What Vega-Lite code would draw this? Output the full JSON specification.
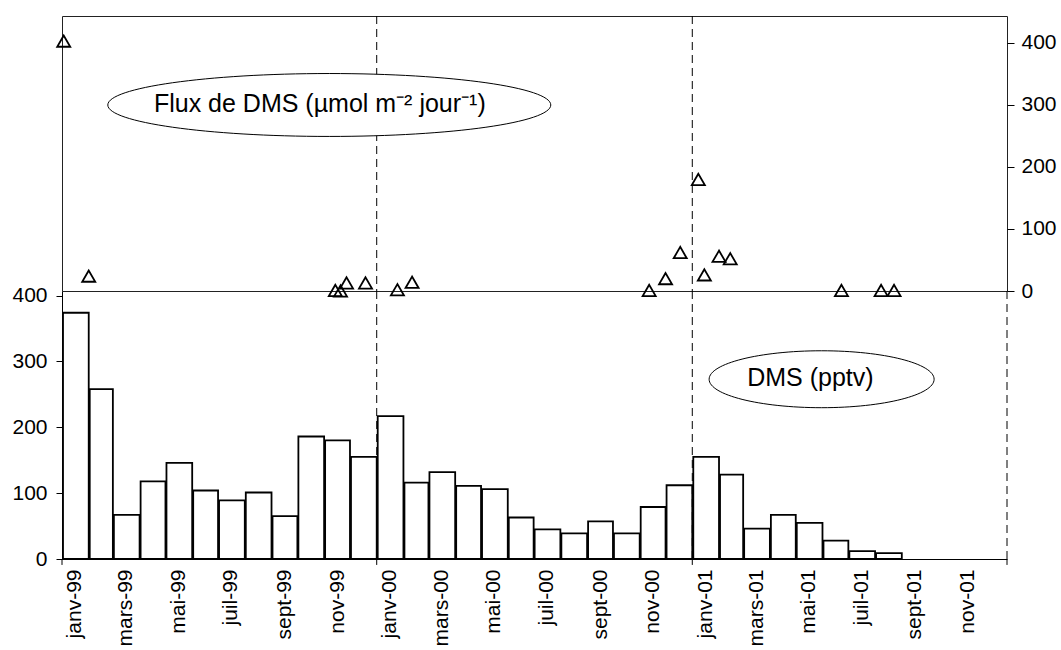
{
  "$schema": "https://vega.github.io/schema/vega-lite/v6.json",
  "background": "white",
  "padding": {"left": 11, "top": 15, "right": 5, "bottom": 0},
  "spacing": 0,
  "bounds": "flush",
  "config": {
    "font": "Liberation Sans",
    "axis": {"labelFont": "Liberation Sans", "labelColor": "black", "labelFontSize": 21, "domainColor": "black", "tickColor": "black", "grid": false, "title": null},
    "view": {"stroke": null}
  },
  "datasets": {
    "dms": [
      {"month": "1999-01-15", "dms": 374},
      {"month": "1999-02-15", "dms": 258},
      {"month": "1999-03-15", "dms": 67},
      {"month": "1999-04-15", "dms": 118},
      {"month": "1999-05-15", "dms": 146},
      {"month": "1999-06-15", "dms": 104},
      {"month": "1999-07-15", "dms": 89},
      {"month": "1999-08-15", "dms": 101},
      {"month": "1999-09-15", "dms": 65},
      {"month": "1999-10-15", "dms": 186},
      {"month": "1999-11-15", "dms": 180},
      {"month": "1999-12-15", "dms": 155},
      {"month": "2000-01-15", "dms": 217},
      {"month": "2000-02-15", "dms": 116},
      {"month": "2000-03-15", "dms": 132},
      {"month": "2000-04-15", "dms": 111},
      {"month": "2000-05-15", "dms": 106},
      {"month": "2000-06-15", "dms": 63},
      {"month": "2000-07-15", "dms": 45},
      {"month": "2000-08-15", "dms": 39},
      {"month": "2000-09-15", "dms": 57},
      {"month": "2000-10-15", "dms": 39},
      {"month": "2000-11-15", "dms": 79},
      {"month": "2000-12-15", "dms": 112},
      {"month": "2001-01-15", "dms": 155},
      {"month": "2001-02-15", "dms": 128},
      {"month": "2001-03-15", "dms": 46},
      {"month": "2001-04-15", "dms": 67},
      {"month": "2001-05-15", "dms": 55},
      {"month": "2001-06-15", "dms": 28},
      {"month": "2001-07-15", "dms": 12},
      {"month": "2001-08-15", "dms": 9}
    ],
    "flux": [
      {"date": "1999-01-03", "flux": 403},
      {"date": "1999-02-01", "flux": 24},
      {"date": "1999-11-14", "flux": 1},
      {"date": "1999-11-20", "flux": 0},
      {"date": "1999-11-27", "flux": 13},
      {"date": "1999-12-19", "flux": 13},
      {"date": "2000-01-25", "flux": 2},
      {"date": "2000-02-11", "flux": 14},
      {"date": "2000-11-12", "flux": 1},
      {"date": "2000-12-01", "flux": 20},
      {"date": "2000-12-18", "flux": 62},
      {"date": "2001-01-08", "flux": 180},
      {"date": "2001-01-15", "flux": 26},
      {"date": "2001-02-01", "flux": 56},
      {"date": "2001-02-14", "flux": 52},
      {"date": "2001-06-23", "flux": 1},
      {"date": "2001-08-08", "flux": 1},
      {"date": "2001-08-23", "flux": 1}
    ],
    "years": [
      {"date": "2000-01-01T00:00:00"},
      {"date": "2001-01-01T00:00:00"}
    ],
    "yearsEnd": [
      {"date": "2000-01-01T00:00:00"},
      {"date": "2001-01-01T00:00:00"},
      {"date": "2002-01-01T00:00:00"}
    ],
    "yearsAll": [
      {"date": "1999-01-01T00:00:00"},
      {"date": "2000-01-01T00:00:00"},
      {"date": "2001-01-01T00:00:00"},
      {"date": "2002-01-01T00:00:00"}
    ]
  },
  "vconcat": [
    {
      "width": 945,
      "height": 275,
      "view": {"stroke": "#222", "strokeWidth": 1},
      "layer": [
        {
          "data": {"name": "years"},
          "mark": {"type": "rule", "stroke": "black", "strokeWidth": 1, "strokeDash": [8, 5]},
          "encoding": {
            "x": {"field": "date", "type": "temporal", "scale": {"domain": [{"year": 1999, "month": 1, "date": 1}, {"year": 2002, "month": 1, "date": 1}], "nice": false}, "axis": null}
          }
        },
        {
          "data": {"values": [{}]},
          "mark": {"type": "point", "shape": "M-1,0C-1,-0.0785,-0.5523,-0.142,0,-0.142C0.5523,-0.142,1,-0.0785,1,0C1,0.0785,0.5523,0.142,0,0.142C-0.5523,0.142,-1,0.0785,-1,0Z", "size": 196249, "filled": true, "fill": "white", "stroke": "black", "strokeWidth": 1, "opacity": 1},
          "encoding": {
            "x": {"datum": {"year": 1999, "month": 11, "date": 7}, "type": "temporal"},
            "y": {"datum": 300, "type": "quantitative"}
          }
        },
        {
          "data": {"values": [{}]},
          "mark": {"type": "text", "text": "Flux de DMS (µmol m⁻² jour⁻¹)", "font": "Liberation Sans", "fontSize": 25, "color": "black", "align": "center", "baseline": "middle"},
          "encoding": {
            "x": {"datum": {"year": 1999, "month": 10, "date": 27}, "type": "temporal"},
            "y": {"datum": 302, "type": "quantitative"}
          }
        },
        {
          "data": {"name": "flux"},
          "mark": {"type": "point", "shape": "triangle-up", "filled": false, "stroke": "black", "strokeWidth": 1.8, "size": 170, "opacity": 1},
          "encoding": {
            "x": {"field": "date", "type": "temporal"},
            "y": {"field": "flux", "type": "quantitative", "scale": {"domain": [0, 443.5], "nice": false, "zero": false},
                  "axis": {"orient": "right", "values": [0, 100, 200, 300, 400], "domain": false, "tickSize": 7, "labelPadding": 7}}
          }
        }
      ]
    },
    {
      "width": 945,
      "height": 268,
      "layer": [
        {
          "data": {"name": "dms"},
          "mark": {"type": "bar", "fill": "white", "stroke": "black", "strokeWidth": 1.8},
          "encoding": {
            "x": {"field": "month", "timeUnit": "yearmonth", "type": "temporal",
                  "scale": {"domain": [{"year": 1999, "month": 1, "date": 1}, {"year": 2002, "month": 1, "date": 1}], "nice": false},
                  "axis": {
                    "orient": "bottom",
                    "values": [
                      {"year": 1999, "month": 1, "date": 16}, {"year": 1999, "month": 3, "date": 16}, {"year": 1999, "month": 5, "date": 16}, {"year": 1999, "month": 7, "date": 16}, {"year": 1999, "month": 9, "date": 16}, {"year": 1999, "month": 11, "date": 16},
                      {"year": 2000, "month": 1, "date": 16}, {"year": 2000, "month": 3, "date": 16}, {"year": 2000, "month": 5, "date": 16}, {"year": 2000, "month": 7, "date": 16}, {"year": 2000, "month": 9, "date": 16}, {"year": 2000, "month": 11, "date": 16},
                      {"year": 2001, "month": 1, "date": 16}, {"year": 2001, "month": 3, "date": 16}, {"year": 2001, "month": 5, "date": 16}, {"year": 2001, "month": 7, "date": 16}, {"year": 2001, "month": 9, "date": 16}, {"year": 2001, "month": 11, "date": 16}
                    ],
                    "labelExpr": "['janv','févr','mars','avr','mai','juin','juil','août','sept','oct','nov','déc'][month(datum.value)] + '-' + timeFormat(datum.value, '%y')",
                    "labelAngle": -90,
                    "labelFontSize": 21,
                    "labelPadding": 10,
                    "ticks": false,
                    "labelOverlap": false,
                    "labelFlush": false,
                    "labelBound": false
                  }},
            "y": {"field": "dms", "type": "quantitative", "scale": {"domain": [0, 407], "nice": false},
                  "axis": {"values": [0, 100, 200, 300, 400], "tickSize": 6, "labelPadding": 9}}
          }
        },
        {
          "data": {"name": "yearsEnd"},
          "mark": {"type": "rule", "stroke": "black", "strokeWidth": 1, "strokeDash": [8, 5]},
          "encoding": {
            "x": {"field": "date", "type": "temporal"}
          }
        },
        {
          "data": {"name": "yearsAll"},
          "mark": {"type": "rule", "stroke": "black", "strokeWidth": 1, "clip": false},
          "encoding": {
            "x": {"field": "date", "type": "temporal"},
            "y": {"datum": 0, "type": "quantitative"},
            "y2": {"datum": -9}
          }
        },
        {
          "data": {"values": [{}]},
          "mark": {"type": "point", "shape": "M-1,0C-1,-0.1397,-0.5523,-0.253,0,-0.253C0.5523,-0.253,1,-0.1397,1,0C1,0.1397,0.5523,0.253,0,0.253C-0.5523,0.253,-1,0.1397,-1,0Z", "size": 50625, "filled": true, "fill": "white", "stroke": "black", "strokeWidth": 1, "opacity": 1},
          "encoding": {
            "x": {"datum": {"year": 2001, "month": 5, "date": 31}, "type": "temporal"},
            "y": {"datum": 273, "type": "quantitative"}
          }
        },
        {
          "data": {"values": [{}]},
          "mark": {"type": "text", "text": "DMS (pptv)", "font": "Liberation Sans", "fontSize": 25, "color": "black", "align": "center", "baseline": "middle"},
          "encoding": {
            "x": {"datum": {"year": 2001, "month": 5, "date": 18}, "type": "temporal"},
            "y": {"datum": 275, "type": "quantitative"}
          }
        }
      ]
    }
  ]
}
